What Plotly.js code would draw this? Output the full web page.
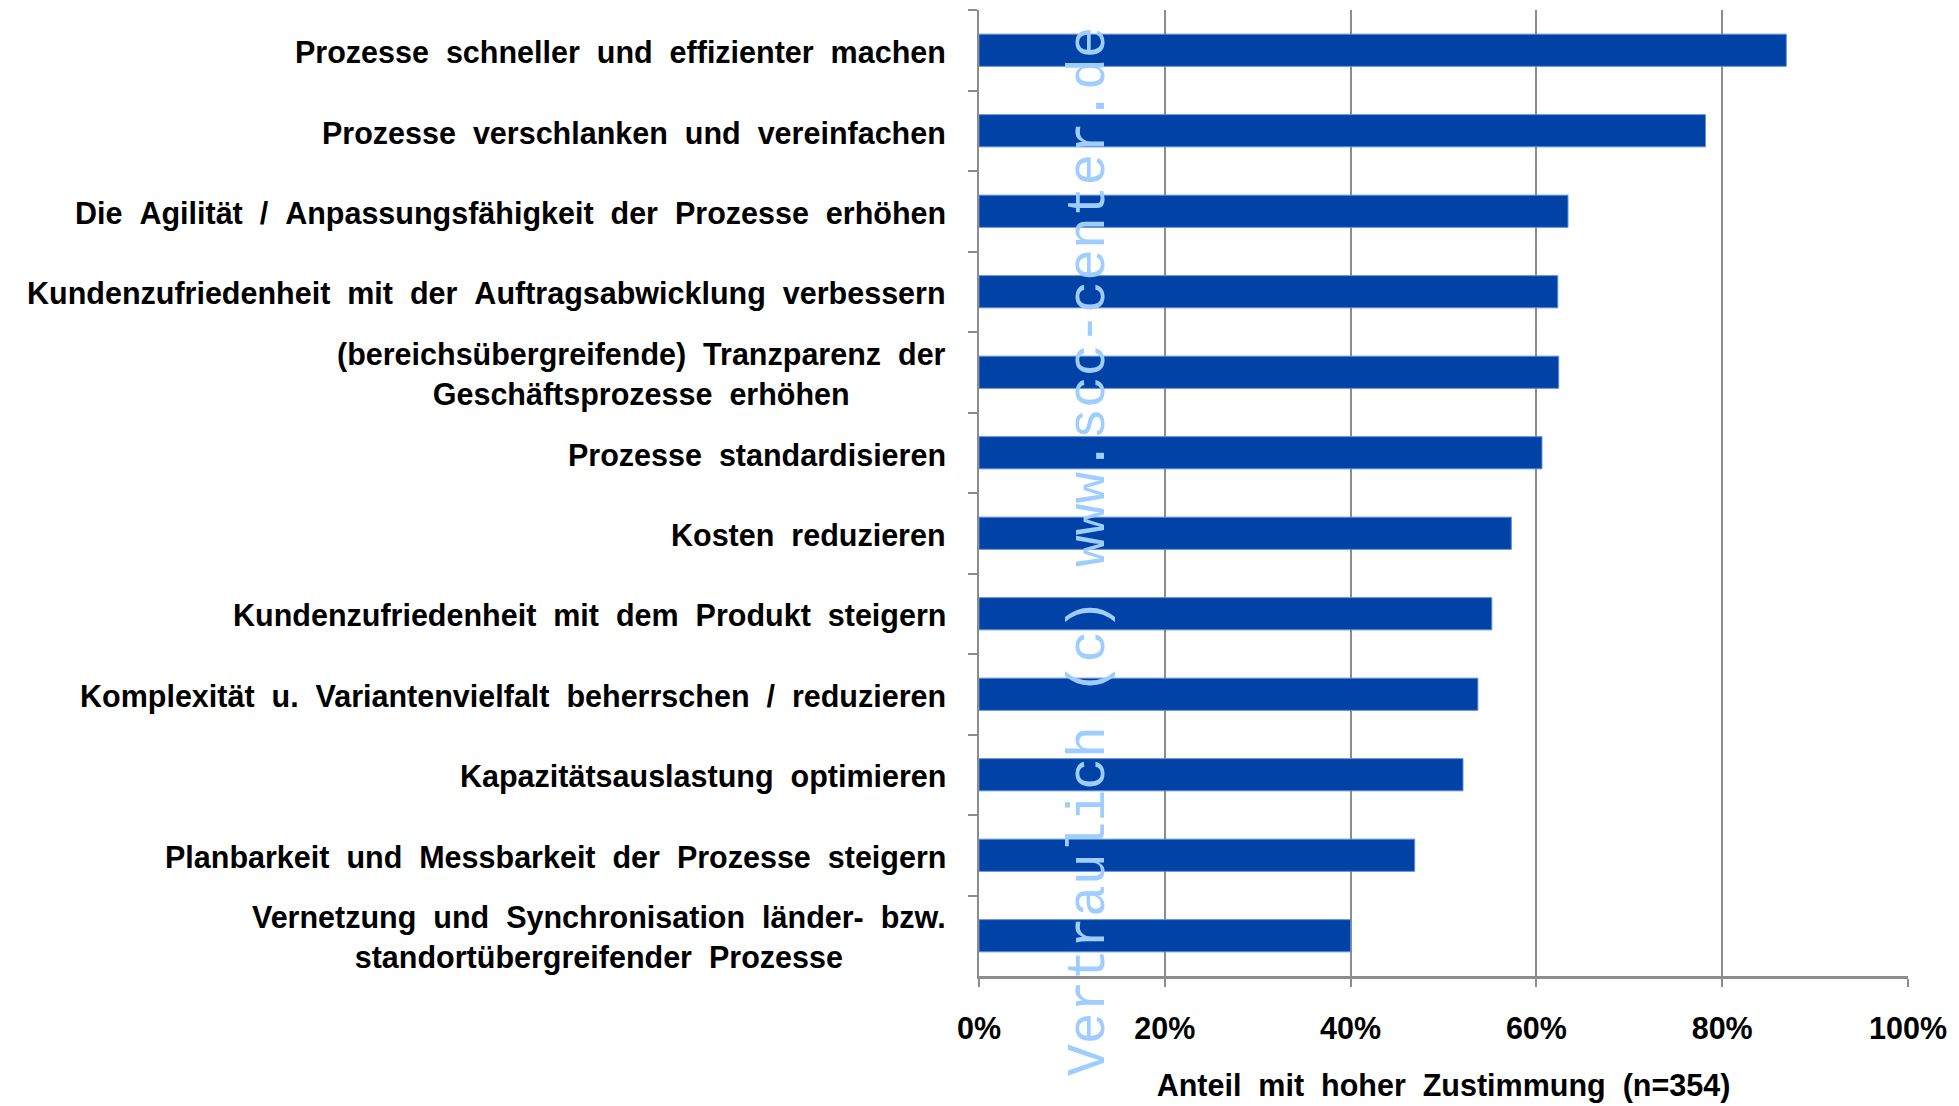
<!DOCTYPE html>
<html>
<head>
<meta charset="utf-8">
<script src="https://cdn.plot.ly/plotly-3.0.1.min.js"></script>
<style>
html,body{margin:0;padding:0;background:#fff;}
#chart{width:1959px;height:1106px;}
</style>
</head>
<body>
<div id="chart"></div>
<script>
const categories = [
  "Prozesse schneller und effizienter machen",
  "Prozesse verschlanken und vereinfachen",
  "Die Agilität / Anpassungsfähigkeit der Prozesse erhöhen",
  "Kundenzufriedenheit mit der Auftragsabwicklung verbessern",
  "(bereichsübergreifende) Tranzparenz der<br>Geschäftsprozesse erhöhen",
  "Prozesse standardisieren",
  "Kosten reduzieren",
  "Kundenzufriedenheit mit dem Produkt steigern",
  "Komplexität u. Variantenvielfalt beherrschen / reduzieren",
  "Kapazitätsauslastung optimieren",
  "Planbarkeit und Messbarkeit der Prozesse steigern",
  "Vernetzung und Synchronisation länder- bzw.<br>standortübergreifender Prozesse"
];
const values = [86.9, 78.2, 63.4, 62.3, 62.4, 60.6, 57.3, 55.2, 53.7, 52.1, 46.9, 40.0];
const xTickValues = [0, 20, 40, 60, 80, 100];
const xTickLabels = ["0%", "20%", "40%", "60%", "80%", "100%"];
const xTitle = "Anteil mit hoher Zustimmung (n=354)";
const watermark = "Vertraulich (c) www.scc-center.de";

// the source chart sets its words with wide gaps
const wide = s => s.replace(/ /g, " \u00A0");
const FONT = "Liberation Sans, Arial, sans-serif";
const labelFont = {family: FONT, size: 30.5, color: "#000"};

const trace = {
  type: "bar",
  orientation: "h",
  x: values,
  y: categories,
  marker: {color: "#0042A6", line: {color: "#5C8FDB", width: 1}},
  hoverinfo: "x+y"
};

const annotations = categories.map(c => ({
  xref: "paper", yref: "y", x: 0, y: c,
  xanchor: "right", yanchor: "middle", xshift: -31, yshift: -2,
  align: "center", showarrow: false,
  text: "<b>" + wide(c) + "</b>", font: labelFont
}));
annotations.push({
  xref: "paper", yref: "paper", x: 0.1195, y: 0.44,
  xanchor: "center", yanchor: "middle", textangle: -90,
  showarrow: false, text: watermark,
  font: {family: "Liberation Mono, Courier New, monospace", size: 53, color: "#9FCDFF"}
});

const layout = {
  width: 1959, height: 1106,
  margin: {l: 979, r: 51, t: 10, b: 130},
  paper_bgcolor: "#fff", plot_bgcolor: "#fff",
  showlegend: false,
  bargap: 0.6,
  xaxis: {
    range: [0, 100], tickvals: xTickValues, ticktext: xTickLabels.map(t => "<b>" + t + "</b>"),
    showgrid: true, gridcolor: "#8C8C8C", gridwidth: 2,
    showline: true, linecolor: "#8C8C8C", linewidth: 3,
    ticks: "outside", ticklen: 8, tickcolor: "#8C8C8C", tickwidth: 2,
    ticklabelstandoff: 15,
    tickfont: {family: FONT, size: 30.5, color: "#000"},
    zeroline: false, fixedrange: true,
    title: {text: "<b>" + wide(xTitle) + "</b>", font: {family: FONT, size: 30.5, color: "#000"}, standoff: 32}
  },
  yaxis: {
    autorange: "reversed", type: "category",
    showticklabels: false, tickson: "boundaries",
    ticks: "outside", ticklen: 9, tickcolor: "#8C8C8C", tickwidth: 2,
    showline: true, linecolor: "#8C8C8C", linewidth: 2,
    showgrid: false, zeroline: false, fixedrange: true
  },
  annotations: annotations
};

Plotly.newPlot("chart", [trace], layout, {displayModeBar: false, staticPlot: true});
</script>
</body>
</html>
